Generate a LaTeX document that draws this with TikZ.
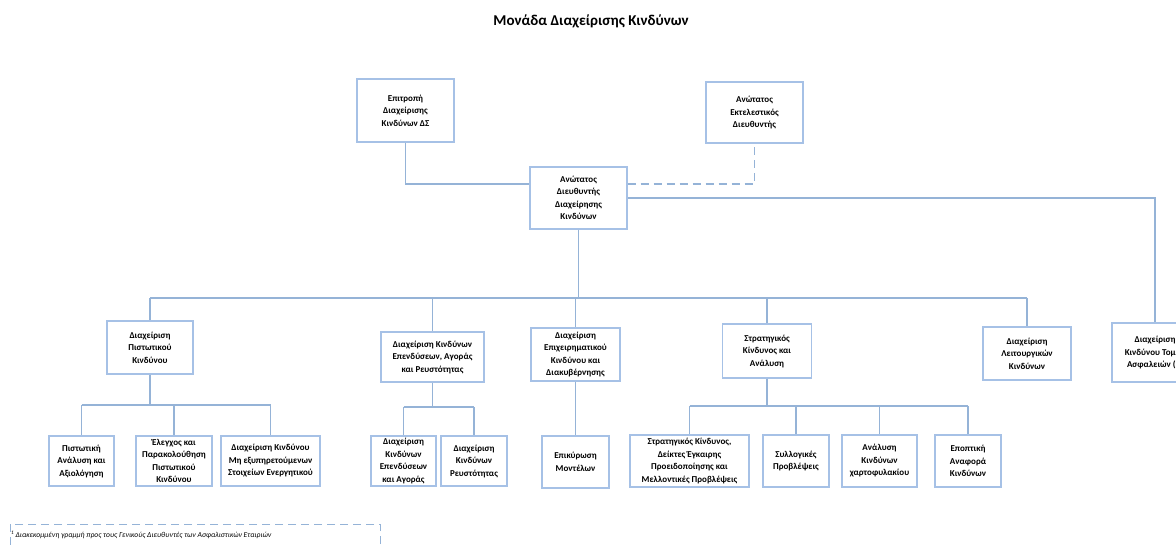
\documentclass[tikz,border=0pt]{standalone}
\usepackage{fontspec}
\setmainfont{Carlito}
\usetikzlibrary{positioning,calc}
\definecolor{orgBlue}{HTML}{95B3D7}
\definecolor{orgEdge}{HTML}{A6C1E6}
\tikzset{
  % Unit box: thin light-blue frame, bold small text.
  org/box/.style={
    draw=orgEdge, fill=white, line width=1.2pt, align=center,
    inner sep=1pt, text=black, font=\fontsize{9}{12.5}\selectfont\bfseries
  },
  % Box size, given as width and height.
  org/wh/.style 2 args={minimum width=#1, minimum height=#2},
  % Reporting lines. Solid for direct, dashed for the indirect one.
  org/line/.style={draw=orgBlue, line width=1.1pt},
  org/lineD/.style={org/line, dash pattern=on 8pt off 5pt},
  % Heading above the chart.
  org/title/.style={font=\fontsize{15}{18}\selectfont\bfseries, text=black},
}

\begin{document}
\begin{tikzpicture}[x=1pt,y=-1pt,
  note/.style={font=\fontsize{7.6}{9}\selectfont\itshape, text=black, inner sep=0pt}]
  \useasboundingbox (0,0) rectangle (1176,544);
  \clip (0,0) rectangle (1176,544);
  \node[org/title] (title) at (591,21) {Μονάδα Διαχείρισης Κινδύνων};
  % top level
  \node[org/box, org/wh={97pt}{63pt}] (board) at (405.5,110.5) {Επιτροπή\\Διαχείρισης\\Κινδύνων ΔΣ};
  \node[org/box, org/wh={97pt}{61pt}] (ceo)   at (754.5,112.5) {Ανώτατος\\Εκτελεστικός\\Διευθυντής};
  \node[org/box, org/wh={97pt}{62pt}] (cro)   at (578.5,198)   {Ανώτατος\\Διευθυντής\\Διαχείρησης\\Κινδύνων};
  % departments
  \node[org/box, org/wh={86pt}{53pt}]  (credit)   at (150,347.5)   {Διαχείριση\\Πιστωτικού\\Κινδύνου};
  \node[org/box, org/wh={103pt}{50pt}] (market)   at (432.5,357)   {Διαχείριση Κινδύνων\\Επενδύσεων, Αγοράς\\και Ρευστότητας};
  \node[org/box, org/wh={89pt}{53pt}]  (business) at (575.5,354.5) {Διαχείριση\\Επιχειρηματικού\\Κινδύνου και\\Διακυβέρνησης};
  \node[org/box, org/wh={89pt}{54pt}]  (strat)    at (767,351)     {Στρατηγικός\\Κίνδυνος και\\Ανάλυση};
  \node[org/box, org/wh={88pt}{53pt}]  (oper)     at (1027,353.5)  {Διαχείριση\\Λειτουργικών\\Κινδύνων};
  \node[org/box, org/wh={86pt}{59pt}]  (insur)    at (1155,352.5)  {Διαχείριση\\Κινδύνου Τομέα\\Ασφαλειών (1)};
  % units
  \node[org/box, org/wh={65pt}{50pt}]  (cr1) at (81.5,461) {Πιστωτική\\Ανάλυση και\\Αξιολόγηση};
  \node[org/box, org/wh={76pt}{50pt}]  (cr2) at (174,461)  {Έλεγχος και\\Παρακολούθηση\\Πιστωτικού\\Κινδύνου};
  \node[org/box, org/wh={99pt}{50pt}]  (cr3) at (270.5,461) {Διαχείριση Κινδύνου\\Μη εξυπηρετούμενων\\Στοιχείων Ενεργητικού};
  \node[org/box, org/wh={65pt}{50pt}]  (mk1) at (403.5,461) {Διαχείριση\\Κινδύνων\\Επενδύσεων\\και Αγοράς};
  \node[org/box, org/wh={66pt}{50pt}]  (mk2) at (474,461)   {Διαχείριση\\Κινδύνων\\Ρευστότητας};
  \node[org/box, org/wh={67pt}{52pt}]  (bs1) at (575.5,462) {Επικύρωση\\Μοντέλων};
  \node[org/box, org/wh={119pt}{52pt}] (st1) at (689.5,461) {Στρατηγικός Κίνδυνος,\\Δείκτες Έγκαιρης\\Προειδοποίησης και\\Μελλοντικές Προβλέψεις};
  \node[org/box, org/wh={66pt}{52pt}]  (st2) at (796,461)   {Συλλογικές\\Προβλέψεις};
  \node[org/box, org/wh={75pt}{52pt}]  (st3) at (879.5,461) {Ανάλυση\\Κινδύνων\\χαρτοφυλακίου};
  \node[org/box, org/wh={66pt}{52pt}]  (st4) at (968,461)   {Εποπτική\\Αναφορά\\Κινδύνων};
  % reporting lines
  \draw[org/line] (board.south) |- ([yshift=14pt]cro.west);
  \draw[org/lineD] ([yshift=14pt]cro.east) -| (ceo.south);
  \draw[org/line] (cro.east) -| (insur.north);
  \coordinate (busTop) at (0,298);
  \coordinate (busCr)  at (0,405);
  \coordinate (busMk)  at (0,407);
  \coordinate (busSt)  at (0,406);
  \draw[org/line] (cro.south) -- (cro.south |- busTop);
  \draw[org/line] (credit.north |- busTop) -- (oper.north |- busTop);
  \foreach \n in {credit,market,business,strat,oper}
    \draw[org/line] (\n.north |- busTop) -- (\n.north);
  \draw[org/line] (credit.south) -- (credit.south |- busCr);
  \draw[org/line] (cr1.north |- busCr) -- (cr3.north |- busCr);
  \foreach \n in {cr1,cr2,cr3}
    \draw[org/line] (\n.north |- busCr) -- (\n.north);
  \draw[org/line] (market.south) -- (market.south |- busMk);
  \draw[org/line] (mk1.north |- busMk) -- (mk2.north |- busMk);
  \foreach \n in {mk1,mk2}
    \draw[org/line] (\n.north |- busMk) -- (\n.north);
  \draw[org/line] (business.south) -- (bs1.north);
  \draw[org/line] (strat.south) -- (strat.south |- busSt);
  \draw[org/line] (st1.north |- busSt) -- (st4.north |- busSt);
  \foreach \n in {st1,st2,st3,st4}
    \draw[org/line] (\n.north |- busSt) -- (\n.north);
  % footnote
  \draw[org/lineD, line width=0.8pt] (10,524) rectangle (380,570);
  \node[note, anchor=west] (fnote) at (11,535)
    {\textsuperscript{1}\,Διακεκομμένη γραμμή προς τους Γενικούς Διευθυντές των Ασφαλιστικών Εταιριών};
\end{tikzpicture}
\end{document}
